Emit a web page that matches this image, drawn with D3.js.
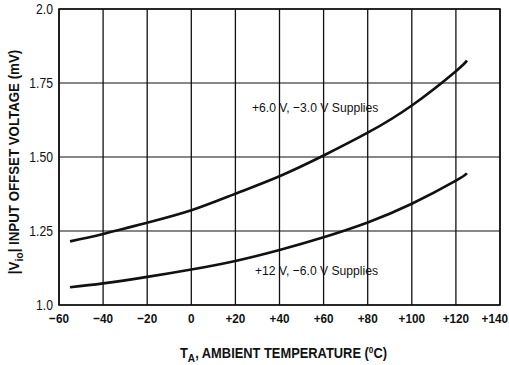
<!DOCTYPE html>
<html>
<head>
<meta charset="utf-8" />
<title>Input Offset Voltage vs Ambient Temperature</title>
<script src="https://d3js.org/d3.v7.min.js" charset="utf-8"></script>
<style>
  body { margin: 0; background: #fff; }
  text { font-family: "Liberation Sans", Arial, sans-serif; fill: #111; }
</style>
</head>
<body>
<script>
// Data
const temps = [-55, -40, -20, 0, 20, 40, 60, 80, 100, 120, 125];
const vioLowSupply = [1.215, 1.24, 1.278, 1.32, 1.376, 1.435, 1.505, 1.582, 1.674, 1.79, 1.826];
const vioHighSupply = [1.06, 1.073, 1.095, 1.12, 1.149, 1.186, 1.229, 1.279, 1.342, 1.42, 1.445];
const xTicks = [-60, -40, -20, 0, 20, 40, 60, 80, 100, 120, 140];
const yTicks = [1.0, 1.25, 1.5, 1.75, 2.0];
const yTickLabels = ["1.0", "1.25", "1.50", "1.75", "2.0"];

const width = 509, height = 365;
const margin = { top: 9, right: 9, bottom: 60, left: 59 };
const squeeze = 0.87; // the source uses a condensed face

const x = d3.scaleLinear().domain([-60, 140]).range([margin.left, width - margin.right]);
const y = d3.scaleLinear().domain([1.0, 2.0]).range([height - margin.bottom, margin.top]);

const svg = d3.select("body").append("svg")
    .attr("width", width)
    .attr("height", height);

// grid
svg.append("g")
    .selectAll("line")
    .data(xTicks)
    .enter().append("line")
    .attr("x1", d => x(d)).attr("x2", d => x(d))
    .attr("y1", y(1.0)).attr("y2", y(2.0))
    .attr("stroke", "#111").attr("stroke-width", 1.3);

svg.append("g")
    .selectAll("line")
    .data(yTicks)
    .enter().append("line")
    .attr("x1", x(-60)).attr("x2", x(140))
    .attr("y1", d => y(d)).attr("y2", d => y(d))
    .attr("stroke", "#111").attr("stroke-width", 1.1);

// frame
svg.append("rect")
    .attr("x", x(-60)).attr("y", y(2.0))
    .attr("width", x(140) - x(-60)).attr("height", y(1.0) - y(2.0))
    .attr("fill", "none").attr("stroke", "#111").attr("stroke-width", 1.6);

// x tick labels (last one pulled in so it stays on the page)
svg.append("g")
    .selectAll("text")
    .data(xTicks)
    .enter().append("text")
    .attr("transform", (d, i) => {
        const px = i === xTicks.length - 1 ? width - 1 : x(d);
        return `translate(${px},${y(1.0) + 18}) scale(${squeeze},1)`;
    })
    .attr("text-anchor", (d, i) => i === xTicks.length - 1 ? "end" : "middle")
    .attr("font-size", 13.5)
    .attr("font-weight", "bold")
    .text(d => d > 0 ? "+" + d : d < 0 ? "\u2212" + Math.abs(d) : "0");

// y tick labels
svg.append("g")
    .selectAll("text")
    .data(yTicks)
    .enter().append("text")
    .attr("transform", d => `translate(${margin.left - 6},${y(d)}) scale(0.84,1)`)
    .attr("dy", "0.35em")
    .attr("text-anchor", "end")
    .attr("font-size", 14.5)
    .text((d, i) => yTickLabels[i]);

// curves
const line = d3.line()
    .x(d => x(d[0]))
    .y(d => y(d[1]))
    .curve(d3.curveNatural);

[vioLowSupply, vioHighSupply].forEach(series => {
    svg.append("path")
        .datum(temps.map((t, i) => [t, series[i]]))
        .attr("d", line)
        .attr("fill", "none")
        .attr("stroke", "#111")
        .attr("stroke-width", 2.6);
});

// curve labels
svg.append("text")
    .attr("transform", `translate(${x(27.5)},${y(1.652)}) scale(0.9,1)`)
    .attr("font-size", 13.5)
    .text("+6.0 V, \u22123.0 V Supplies");

svg.append("text")
    .attr("transform", `translate(${x(28.9)},${y(1.101)}) scale(0.9,1)`)
    .attr("font-size", 13.5)
    .text("+12 V, \u22126.0 V Supplies");

// x axis title
const xTitle = svg.append("text")
    .attr("transform", `translate(${(x(-60) + x(140)) / 2 + 4},358) scale(0.92,1)`)
    .attr("text-anchor", "middle")
    .attr("font-size", 14)
    .attr("font-weight", "bold");
xTitle.append("tspan").text("T");
xTitle.append("tspan").attr("dy", 4).attr("font-size", 11).text("A");
xTitle.append("tspan").attr("dy", -4).text(", AMBIENT TEMPERATURE (");
xTitle.append("tspan").attr("dy", -5).attr("font-size", 9).text("0");
xTitle.append("tspan").attr("dy", 5).text("C)");

// y axis title
const yTitle = svg.append("text")
    .attr("transform", `translate(19, ${(y(1.0) + y(2.0)) / 2 + 5}) rotate(-90) scale(0.95,1)`)
    .attr("text-anchor", "middle")
    .attr("font-size", 14)
    .attr("font-weight", "bold");
yTitle.append("tspan").text("|V");
yTitle.append("tspan").attr("dy", 4).attr("font-size", 11).text("io");
yTitle.append("tspan").attr("dy", -4).text("| INPUT OFFSET VOLTAGE (mV)");
</script>
</body>
</html>
